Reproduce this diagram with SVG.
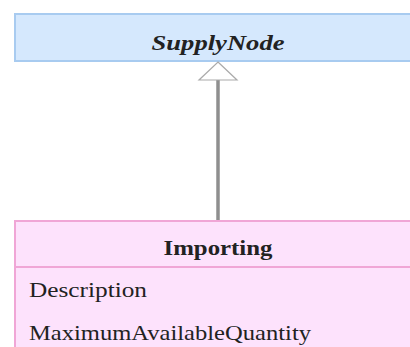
<svg xmlns="http://www.w3.org/2000/svg" width="410" height="347" viewBox="0 0 410 347">
<style>
.t{font-family:"Liberation Serif","Times New Roman",serif;fill:#222;}
.blue{fill:#d5e8fd;stroke:#a8cbf0;stroke-width:2;}
.pink{fill:#fde2fc;stroke:#f0a6d6;stroke-width:2;}
</style>
<rect width="410" height="347" fill="#fff"/>
<g id="SupplyNode">
<rect class="blue" x="15" y="14" width="400" height="47"/>
<text class="t" x="218" y="50" text-anchor="middle" font-size="22" font-weight="bold" font-style="italic" textLength="133" lengthAdjust="spacingAndGlyphs">SupplyNode</text>
</g>
<g id="connectors">
<line x1="218" y1="80" x2="218" y2="221" stroke="#8f8f8f" stroke-width="3.5"/>
<polygon points="218,62 237,80 199,80" fill="#fff" stroke="#aaa" stroke-width="1.2"/>
</g>
<g id="Importing">
<rect class="pink" x="15" y="221" width="400" height="140"/>
<line x1="15" y1="267" x2="415" y2="267" stroke="#f0a6d6" stroke-width="2"/>
<text class="t" x="218" y="255" text-anchor="middle" font-size="22" font-weight="bold" textLength="109" lengthAdjust="spacingAndGlyphs">Importing</text>
<text class="t" x="29" y="297" font-size="21" textLength="118" lengthAdjust="spacingAndGlyphs">Description</text>
<text class="t" x="29" y="340" font-size="21" textLength="282" lengthAdjust="spacingAndGlyphs">MaximumAvailableQuantity</text>
</g>
</svg>
